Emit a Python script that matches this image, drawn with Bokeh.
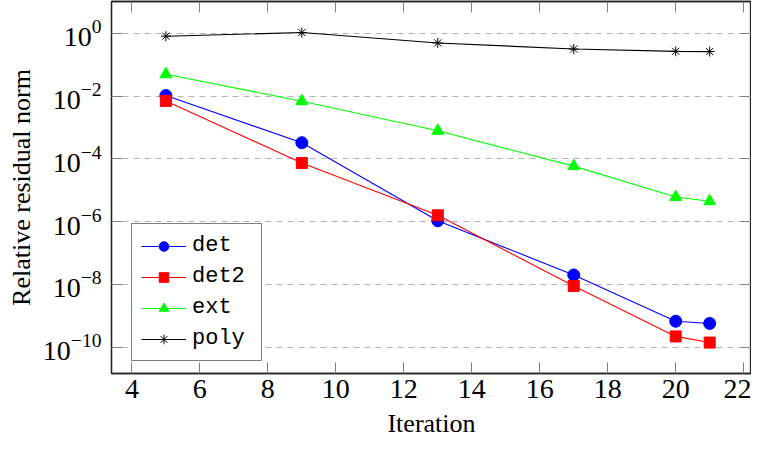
from bokeh.plotting import figure
from bokeh.models import Range1d, LogAxis, LinearAxis, FixedTicker, Legend, LegendItem
from bokeh.embed import file_html
from bokeh.resources import INLINE

iterations = [5, 9, 13, 17, 20, 21]
det = [1.05e-2, 3.3e-4, 1.07e-6, 2.0e-8, 6.7e-10, 5.7e-10]
det2 = [7.1e-3, 7.4e-5, 1.6e-6, 8.9e-9, 2.2e-10, 1.4e-10]
ext = [5.0e-2, 6.9e-3, 7.9e-4, 5.9e-5, 6.1e-6, 4.5e-6]
poly = [0.82, 1.07, 0.50, 0.32, 0.27, 0.265]

x_ticks = [4, 6, 8, 10, 12, 14, 16, 18, 20, 22]
y_ticks = [1e-10, 1e-8, 1e-6, 1e-4, 1e-2, 1e0]

SERIF = "Liberation Serif"
MONO = "Liberation Mono"

p = figure(width=751, height=440, y_axis_type="log",
           x_range=Range1d(3.40, 22.23), y_range=Range1d(10**-10.84, 10**1.02),
           output_backend="svg", toolbar_location=None,
           min_border_left=111, min_border_right=0, min_border_top=1, min_border_bottom=58)

xt = FixedTicker(ticks=x_ticks, minor_ticks=[])
yt = FixedTicker(ticks=y_ticks, minor_ticks=[])
p.xaxis.ticker = xt
p.yaxis.ticker = yt
p.xgrid.visible = False
p.ygrid.ticker = yt
p.ygrid.grid_line_color = "#b4b4b4"
p.ygrid.grid_line_dash = "6 5"
p.ygrid.grid_line_width = 1

p.outline_line_color = "#222222"
p.outline_line_width = 1.3

for ax in (p.xaxis[0], p.yaxis[0]):
    ax.major_tick_in = 11
    ax.major_tick_out = 0
    ax.major_tick_line_color = "#808080"
    ax.axis_line_color = "#222222"
    ax.axis_line_width = 1.3
    ax.major_label_text_font = SERIF
    ax.major_label_text_font_size = "28px"
    ax.major_label_text_color = "black"
    ax.major_label_text_line_height = 0.9
    ax.axis_label_text_font = SERIF
    ax.axis_label_text_font_size = "26px"
    ax.axis_label_text_font_style = "normal"
    ax.axis_label_text_color = "black"
    ax.axis_label_text_line_height = 0.9

p.xaxis.axis_label = "Iteration"
p.yaxis.axis_label = "Relative residual norm"
p.xaxis.major_label_standoff = 6
p.xaxis.axis_label_standoff = 8
p.yaxis.major_label_standoff = 10
p.yaxis.axis_label_standoff = 4

top = LinearAxis(ticker=xt, major_label_text_font_size="1px", major_label_text_alpha=0,
                 major_label_standoff=0,
                 major_tick_in=11, major_tick_out=0, major_tick_line_color="#808080",
                 axis_line_color="#222222", axis_line_width=1.3)
right = LogAxis(ticker=yt, major_label_text_font_size="1px", major_label_text_alpha=0,
                major_label_standoff=0,
                major_tick_in=11, major_tick_out=0, major_tick_line_color="#808080",
                axis_line_color="#222222", axis_line_width=1.3)
p.add_layout(top, "above")
p.add_layout(right, "right")

lw = 1.1
l1 = p.line(iterations, det, line_color="#0000ff", line_width=lw)
m1 = p.scatter(iterations, det, marker="circle", size=12, fill_color="#0000ff", line_color="#0000ff")
l2 = p.line(iterations, det2, line_color="#ff0000", line_width=lw)
m2 = p.scatter(iterations, det2, marker="square", size=11, fill_color="#ff0000", line_color="#ff0000")
l3 = p.line(iterations, ext, line_color="#00ff00", line_width=lw)
m3 = p.scatter(iterations, ext, marker="triangle", size=12, fill_color="#00ff00", line_color="#00ff00")
l4 = p.line(iterations, poly, line_color="black", line_width=lw)
m4 = p.scatter(iterations, poly, marker="asterisk", size=10, line_color="black", line_width=1)

legend = Legend(items=[
    LegendItem(label="det", renderers=[l1, m1]),
    LegendItem(label="det2", renderers=[l2, m2]),
    LegendItem(label="ext", renderers=[l3, m3]),
    LegendItem(label="poly", renderers=[l4, m4]),
], location=(20, 12))
legend.label_text_font = MONO
legend.label_text_font_size = "22px"
legend.label_text_color = "black"
legend.border_line_color = "black"
legend.border_line_width = 1
legend.background_fill_color = "white"
legend.background_fill_alpha = 1
legend.glyph_width = 45
legend.glyph_height = 24
legend.label_height = 24
legend.label_width = 60
legend.spacing = 6
legend.padding = 9
legend.margin = 0
legend.label_standoff = 6
p.add_layout(legend)

open("out.html", "w").write(file_html(p, INLINE))
